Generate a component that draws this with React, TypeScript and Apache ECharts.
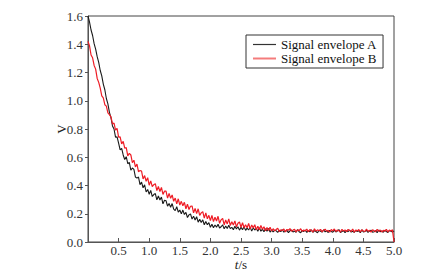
import React, { useEffect, useRef } from "react";
import * as echarts from "echarts";

const T_STEP = 0.025;
const SERIES_NAMES = ["Signal envelope A", "Signal envelope B"];
const X_TICKS = [0, 0.5, 1.0, 1.5, 2.0, 2.5, 3.0, 3.5, 4.0, 4.5, 5.0];
const Y_TICKS = [0, 0.2, 0.4, 0.6, 0.8, 1.0, 1.2, 1.4, 1.6];

// Signal envelope A (black), sampled every 0.025 s from t = 0 to 5.0
const envelopeA = [
  1.6, 1.556, 1.501, 1.462, 1.404, 1.366, 1.312, 1.272, 1.214, 1.176,
  1.118, 1.078, 1.016, 0.978, 0.918, 0.88, 0.822,
  0.8, 0.742, 0.744, 0.7, 0.652, 0.662, 0.616, 0.584, 0.604, 0.554,
  0.564, 0.508, 0.524, 0.514, 0.46, 0.452, 0.46, 0.406, 0.424, 0.384,
  0.405, 0.354, 0.372, 0.338,
  0.365, 0.322, 0.336, 0.343, 0.298, 0.326, 0.297, 0.318, 0.27, 0.295,
  0.292, 0.254, 0.273, 0.246, 0.272, 0.233, 0.222, 0.25, 0.211, 0.226,
  0.199, 0.226, 0.195, 0.21, 0.173, 0.192, 0.199, 0.162, 0.183, 0.156,
  0.179, 0.14, 0.161, 0.138, 0.157, 0.122, 0.145, 0.122, 0.137, 0.104,
  0.126, 0.101, 0.12, 0.105, 0.126, 0.099, 0.108, 0.121, 0.093, 0.114,
  0.095, 0.118, 0.095, 0.104, 0.087, 0.112, 0.093, 0.108, 0.084, 0.105,
  0.086, 0.109, 0.082, 0.098, 0.085, 0.104, 0.077, 0.1, 0.085, 0.096,
  0.076, 0.101, 0.076, 0.091, 0.073, 0.094, 0.076, 0.095, 0.07, 0.086,
  0.071, 0.084, 0.079, 0.068, 0.083, 0.074, 0.087, 0.07, 0.076, 0.082,
  0.066, 0.079, 0.085, 0.071, 0.077, 0.069, 0.088, 0.073, 0.066, 0.081,
  0.075, 0.084, 0.068, 0.078, 0.072, 0.086, 0.069, 0.08, 0.074, 0.065,
  0.083, 0.076, 0.07, 0.087, 0.072, 0.078, 0.067, 0.082, 0.075, 0.069,
  0.084, 0.071, 0.077, 0.088, 0.068, 0.074, 0.081, 0.066, 0.079, 0.073,
  0.085, 0.07, 0.076, 0.068, 0.083, 0.074, 0.079, 0.066, 0.086, 0.071,
  0.075, 0.082, 0.068, 0.077, 0.084, 0.07, 0.073, 0.08, 0.066, 0.085,
  0.072, 0.078, 0.069, 0.083, 0.074, 0.067, 0.081, 0.076, 0.07, 0.079,
];

// Signal envelope B (red), sampled every 0.025 s from t = 0 to 5.0
const envelopeB = [
  1.42, 1.388, 1.324, 1.304, 1.25, 1.224, 1.158, 1.13, 1.09, 1.034,
  1.02, 0.972, 0.962, 0.914, 0.902, 0.886, 0.836, 0.842, 0.792, 0.804,
  0.742, 0.744, 0.694, 0.712, 0.664, 0.668, 0.61, 0.628, 0.616, 0.562,
  0.579, 0.532, 0.552, 0.498, 0.506, 0.502, 0.446, 0.47, 0.43, 0.455,
  0.402,
  0.433, 0.392, 0.406, 0.413, 0.364, 0.393, 0.357, 0.386, 0.337, 0.36,
  0.36, 0.311, 0.344, 0.309, 0.333, 0.288, 0.311, 0.27, 0.306, 0.261,
  0.288, 0.256, 0.281, 0.235, 0.268, 0.23, 0.253, 0.255, 0.206, 0.238,
  0.201, 0.235, 0.188, 0.206, 0.215, 0.169, 0.206, 0.164, 0.189, 0.151,
  0.188, 0.144, 0.175, 0.149, 0.182, 0.132, 0.157, 0.167, 0.122, 0.156,
  0.128, 0.164, 0.117, 0.143, 0.121, 0.149, 0.107, 0.133, 0.142, 0.104,
  0.136, 0.102, 0.122, 0.101, 0.131, 0.093, 0.12, 0.1, 0.122, 0.087,
  0.112, 0.086, 0.117, 0.09, 0.108, 0.079, 0.102, 0.082, 0.105, 0.078,
  0.094, 0.079, 0.088, 0.097, 0.074, 0.086, 0.081, 0.092, 0.072, 0.089,
  0.083, 0.095, 0.076, 0.084, 0.09, 0.071, 0.087, 0.08, 0.094, 0.075,
  0.085, 0.078, 0.091, 0.073, 0.088, 0.082, 0.07, 0.093, 0.077, 0.086,
  0.08, 0.089, 0.072, 0.084, 0.091, 0.076, 0.083, 0.069, 0.088, 0.079,
  0.092, 0.074, 0.085, 0.08, 0.071, 0.09, 0.077, 0.086, 0.073, 0.089,
  0.081, 0.075, 0.092, 0.07, 0.084, 0.079, 0.088, 0.072, 0.086, 0.078,
  0.074, 0.091, 0.076, 0.083, 0.069, 0.087, 0.08, 0.073, 0.089, 0.075,
  0.085, 0.071, 0.082, 0.077, 0.09, 0.072, 0.084, 0.078, 0.086, 0.0,
];

const FONT = "Liberation Serif";
const COLOR_A = "#1a1a1a";
const COLOR_B = "#ee1c25";

function toPairs(values: number[]) {
  return values.map((v, i) => [+(i * T_STEP).toFixed(3), v]);
}

export default function App() {
  const ref = useRef<HTMLDivElement>(null);

  useEffect(() => {
    document.body.style.margin = "0";
    if (!ref.current) return;
    const chart = echarts.init(ref.current, undefined, { renderer: "svg" });
    const axisColor = "#555";
    const labelStyle = { fontFamily: FONT, fontSize: 13, color: "#333" };
    chart.setOption({
      animation: false,
      backgroundColor: "#ffffff",
      textStyle: { fontFamily: FONT },
      grid: {
        left: 88,
        right: 27,
        top: 16,
        bottom: 32,
        show: true,
        borderColor: "#444",
        borderWidth: 1,
        containLabel: false,
        outerBoundsMode: "none",
      },
      legend: {
        data: [
          { name: SERIES_NAMES[0], lineStyle: { color: "#333", width: 1.2 } },
          { name: SERIES_NAMES[1], lineStyle: { color: "#f47c7c", width: 2 } },
        ],
        orient: "vertical",
        left: 246,
        top: 35,
        padding: [3, 6, 3, 6],
        itemGap: 1,
        itemWidth: 23,
        itemHeight: 13,
        borderColor: "#333",
        borderWidth: 1,
        backgroundColor: "#fff",
        itemStyle: { opacity: 0 },
        textStyle: { fontFamily: FONT, fontSize: 13, color: "#111" },
      },
      xAxis: {
        type: "value",
        min: X_TICKS[0],
        max: X_TICKS[X_TICKS.length - 1],
        interval: X_TICKS[1] - X_TICKS[0],
        name: "{i|t}{n|/s}",
        nameLocation: "middle",
        nameGap: 16,
        nameMoveOverlap: false,
        nameTextStyle: {
          fontFamily: FONT,
          rich: {
            i: { fontFamily: FONT, fontSize: 13, fontStyle: "italic", color: "#222" },
            n: { fontFamily: FONT, fontSize: 13, color: "#222" },
          },
        },
        axisLine: { show: true, lineStyle: { color: axisColor, width: 1 } },
        axisTick: { show: true, inside: true, length: 4, lineStyle: { color: axisColor } },
        axisLabel: {
          ...labelStyle,
          margin: 2,
          formatter: (v: number) => (v === 0 ? "" : v.toFixed(1)),
        },
        splitLine: { show: false },
      },
      yAxis: {
        type: "value",
        min: Y_TICKS[0],
        max: Y_TICKS[Y_TICKS.length - 1],
        interval: Y_TICKS[1] - Y_TICKS[0],
        name: "V",
        nameLocation: "middle",
        nameGap: 20,
        nameMoveOverlap: false,
        nameTextStyle: { fontFamily: FONT, fontSize: 13, color: "#222" },
        axisLine: { show: true, lineStyle: { color: axisColor, width: 1 } },
        axisTick: { show: true, inside: false, length: 3, lineStyle: { color: axisColor } },
        axisLabel: {
          ...labelStyle,
          margin: 5,
          formatter: (v: number) => v.toFixed(1),
        },
        splitLine: { show: false },
      },
      series: [
        {
          name: SERIES_NAMES[0],
          type: "line",
          data: toPairs(envelopeA),
          symbol: "none",
          lineStyle: { color: COLOR_A, width: 1.1 },
          itemStyle: { color: COLOR_A },
          z: 2,
        },
        {
          name: SERIES_NAMES[1],
          type: "line",
          data: toPairs(envelopeB),
          symbol: "none",
          lineStyle: { color: COLOR_B, width: 1.2 },
          itemStyle: { color: COLOR_B },
          z: 3,
        },
      ],
    });
    return () => chart.dispose();
  }, []);

  return <div ref={ref} style={{ width: 421, height: 274 }} />;
}
